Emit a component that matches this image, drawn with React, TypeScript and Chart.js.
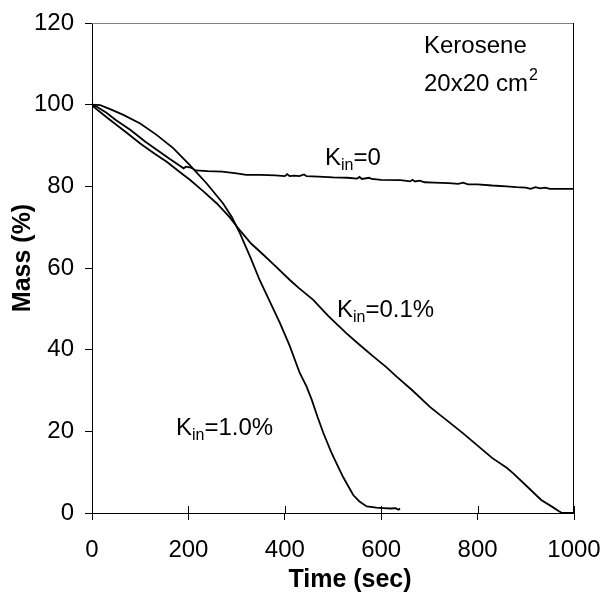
import React, { useEffect, useRef } from 'react';
import { Chart, registerables } from 'chart.js';

Chart.register(...registerables);

// Axis ticks
const xTickValues = [0, 200, 400, 600, 800, 1000];
const yTickValues = [0, 20, 40, 60, 80, 100, 120];

// K_in = 0
const timeK0 = [0, 10, 30, 50, 80, 110, 135, 160, 180, 190, 195, 205, 215, 240, 270, 300, 320, 350, 380, 400, 405, 410, 420, 430, 440, 445, 470, 500, 530, 550, 555, 560, 575, 580, 600, 640, 660, 665, 670, 680, 690, 710, 740, 760, 770, 780, 800, 830, 860, 880, 900, 910, 920, 930, 940, 950, 1000];
const massK0 = [100, 99.5, 98.0, 96.2, 93.8, 91.0, 88.9, 86.8, 85.2, 84.4, 84.8, 84.6, 83.9, 83.7, 83.6, 83.2, 82.8, 82.8, 82.7, 82.5, 83.0, 82.5, 82.6, 82.5, 82.9, 82.5, 82.4, 82.2, 82.1, 81.9, 82.3, 81.8, 82.1, 81.8, 81.6, 81.5, 81.2, 81.6, 81.2, 81.4, 81.0, 80.9, 80.8, 80.6, 80.9, 80.5, 80.5, 80.2, 80.0, 79.8, 79.7, 79.4, 79.8, 79.5, 79.7, 79.4, 79.4];

// K_in = 0.1%
const timeK01 = [0, 3, 20, 37, 70, 100, 130, 155, 180, 203, 230, 259, 285, 307, 330, 355, 380, 411, 430, 459, 490, 528, 555, 584, 610, 632, 665, 701, 735, 770, 800, 830, 861, 874, 900, 932, 955, 968, 975, 1000];
const massK01 = [100, 99.5, 97.9, 96.3, 93.3, 90.5, 88.0, 86.0, 83.7, 81.6, 78.9, 75.8, 72.5, 69.2, 66.0, 63.3, 60.5, 57.0, 55.0, 52.2, 48.3, 44.0, 41.2, 38.3, 35.8, 33.4, 30.0, 26.0, 22.8, 19.5, 16.5, 13.5, 11.0, 9.7, 6.8, 3.2, 1.5, 0.5, 0, 0];

// K_in = 1.0%
const timeK10 = [0, 17, 40, 65, 100, 134, 169, 203, 238, 272, 290, 307, 328, 348, 370, 390, 410, 431, 445, 456, 468, 480, 497, 510, 521, 532, 542, 555, 570, 590, 604, 620, 630, 636, 639];
const massK10 = [100, 99.9, 98.8, 97.5, 95.4, 92.6, 89.3, 85.2, 80.7, 75.8, 72.5, 68.5, 62.8, 57.0, 51.5, 46.5, 41.0, 34.3, 31.0, 27.7, 23.5, 19.6, 14.7, 11.5, 8.8, 6.5, 4.4, 2.8, 1.6, 1.3, 1.2, 1.1, 1.2, 0.8, 1.1];

const xTitle = 'Time (sec)';
const yTitle = 'Mass (%)';

const toPoints = (xs: number[], ys: number[]) => xs.map((x, i) => ({ x, y: ys[i] }));

const FONT = '"Liberation Sans", Arial, sans-serif';

function drawKLabel(ctx: CanvasRenderingContext2D, x: number, y: number, rest: string) {
  ctx.font = `24px ${FONT}`;
  ctx.fillText('K', x, y);
  let cx = x + ctx.measureText('K').width;
  ctx.font = `16px ${FONT}`;
  ctx.fillText('in', cx, y + 5);
  cx += ctx.measureText('in').width;
  ctx.font = `24px ${FONT}`;
  ctx.fillText(rest, cx, y);
}

const decorPlugin = {
  id: 'decor',
  afterDraw(chart: any) {
    const { ctx, chartArea } = chart;
    const { left, right, top, bottom } = chartArea;
    ctx.save();
    // frame top (grey) and right (black)
    ctx.lineWidth = 1;
    ctx.strokeStyle = '#808080';
    ctx.beginPath();
    ctx.moveTo(left, Math.round(top) + 0.5);
    ctx.lineTo(right, Math.round(top) + 0.5);
    ctx.stroke();
    ctx.strokeStyle = '#000';
    ctx.beginPath();
    ctx.moveTo(Math.round(right) - 0.5, top);
    ctx.lineTo(Math.round(right) - 0.5, bottom);
    ctx.stroke();
    // inward part of x ticks
    const xs = chart.scales.x;
    ctx.beginPath();
    xs.ticks.forEach((t: any) => {
      const px = Math.round(xs.getPixelForValue(t.value)) + 0.5;
      ctx.moveTo(px, bottom);
      ctx.lineTo(px, bottom - 7);
    });
    ctx.stroke();

    // axis titles
    ctx.fillStyle = '#000';
    ctx.font = `bold 25px ${FONT}`;
    ctx.textAlign = 'center';
    ctx.textBaseline = 'alphabetic';
    ctx.fillText(xTitle, 350, 587);
    ctx.save();
    ctx.translate(23, 258);
    ctx.rotate(-Math.PI / 2);
    ctx.textBaseline = 'middle';
    ctx.fillText(yTitle, 0, 0);
    ctx.restore();

    // annotations
    ctx.textAlign = 'left';
    ctx.textBaseline = 'alphabetic';
    ctx.font = `24px ${FONT}`;
    ctx.fillText('Kerosene', 424, 53);
    ctx.fillText('20x20 cm', 424, 91);
    const w = ctx.measureText('20x20 cm').width;
    ctx.font = `16px ${FONT}`;
    ctx.fillText('2', 424 + w + 1, 80);

    drawKLabel(ctx, 325, 165, '=0');
    drawKLabel(ctx, 337, 317, '=0.1%');
    drawKLabel(ctx, 176, 435, '=1.0%');
    ctx.restore();
  },
};

export default function App() {
  const ref = useRef<HTMLCanvasElement>(null);
  useEffect(() => {
    if (!ref.current) return;
    const lineStyle = {
      borderColor: '#000',
      borderWidth: 1.8,
      pointRadius: 0,
      fill: false,
      tension: 0,
    };
    const chart = new Chart(ref.current, {
      type: 'line',
      data: {
        datasets: [
          { label: 'Kin=0', data: toPoints(timeK0, massK0), ...lineStyle },
          { label: 'Kin=0.1%', data: toPoints(timeK01, massK01), ...lineStyle },
          { label: 'Kin=1.0%', data: toPoints(timeK10, massK10), ...lineStyle },
        ],
      },
      options: {
        animation: false,
        responsive: false,
        maintainAspectRatio: false,
        devicePixelRatio: 1,
        layout: { padding: { top: 23, right: 29, bottom: 0, left: 0 } },
        plugins: { legend: { display: false }, tooltip: { enabled: false } },
        scales: {
          x: {
            type: 'linear',
            min: 0,
            max: 1000,
            afterBuildTicks: (s: any) => {
              s.ticks = xTickValues.map((v) => ({ value: v }));
            },
            afterFit: (s: any) => {
              s.height = 81;
              s.paddingLeft = 0;
              s.paddingRight = 0;
            },
            grid: { display: true, drawOnChartArea: false, drawTicks: true, tickLength: 7, color: '#000', lineWidth: 1 },
            border: { display: true, color: '#000', width: 1 },
            ticks: {
              color: '#000',
              font: { family: FONT, size: 24 },
              padding: 16,
              maxRotation: 0,
              autoSkip: false,
              callback: (v: any) => String(v),
            },
          },
          y: {
            type: 'linear',
            min: 0,
            max: 120,
            afterBuildTicks: (s: any) => {
              s.ticks = yTickValues.map((v) => ({ value: v }));
            },
            afterFit: (s: any) => {
              s.width = 92;
              s.paddingTop = 0;
              s.paddingBottom = 0;
            },
            grid: { display: true, drawOnChartArea: false, drawTicks: true, tickLength: 7, color: '#000', lineWidth: 1 },
            border: { display: true, color: '#000', width: 1 },
            ticks: { color: '#000', font: { family: FONT, size: 24 }, padding: 11, autoSkip: false, callback: (v: any) => String(v) },
          },
        },
      },
      plugins: [decorPlugin],
    });
    return () => chart.destroy();
  }, []);
  return (
    <div style={{ position: 'absolute', left: 0, top: 0, width: 603, height: 594, background: '#fff' }}>
      <canvas ref={ref} width={603} height={594} style={{ display: 'block' }} />
    </div>
  );
}
